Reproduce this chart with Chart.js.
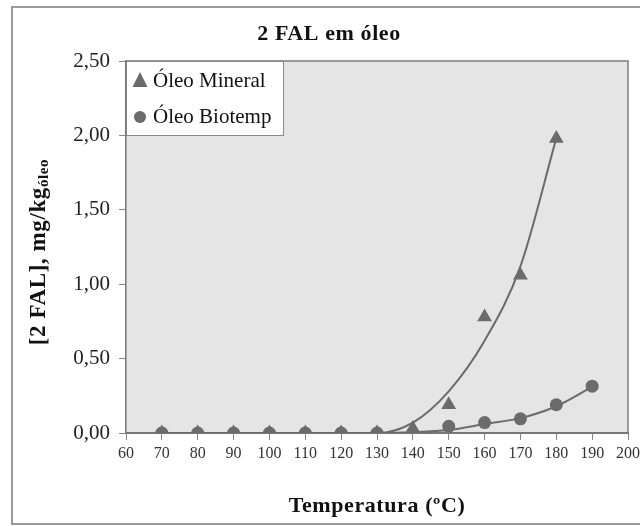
<!DOCTYPE html>
<html>
<head>
<meta charset="utf-8">
<script src="https://cdn.jsdelivr.net/npm/chart.js@4"></script>
<style>
  html, body { margin: 0; padding: 0; background: #fff; }
  #wrap { width: 640px; height: 526px; position: relative; }
</style>
</head>
<body>
<div id="wrap"><canvas id="chart"></canvas></div>
<script>
// temperatures (ºC) and measured 2 FAL values
const tempsMineral = [70, 80, 90, 100, 110, 120, 130, 140, 150, 160, 170, 180];
const mineral = [0, 0, 0, 0, 0, 0, 0, 0.03, 0.19, 0.78, 1.06, 1.98];
const tempsBiotemp = [70, 80, 90, 100, 110, 120, 130, 140, 150, 160, 170, 180, 190];
const biotemp = [0, 0, 0, 0, 0, 0, 0, 0.00, 0.045, 0.07, 0.095, 0.19, 0.315];

// trend curves
const mineralFit = [0, 0, 0, 0, 0, 0, 0, 0.07, 0.28, 0.62, 1.12, 1.98];
const biotempFit = [0, 0, 0, 0, 0, 0, 0, 0.005, 0.02, 0.06, 0.1, 0.18, 0.31];

const yTicks = [0, 0.5, 1, 1.5, 2, 2.5];
const seriesNames = ['Óleo Mineral', 'Óleo Biotemp'];

const GREY = '#6b6b6b';
const SERIF = "'Liberation Serif', 'DejaVu Serif', serif";

function pts(xs, ys) {
	return xs.map((x, i) => ({ x: x, y: ys[i] }));
}

const framePlugin = {
	id: 'frame',
	beforeDraw(chart) {
		const ctx = chart.ctx;
		const a = chart.chartArea;
		ctx.save();
		ctx.fillStyle = '#fff';
		ctx.fillRect(0, 0, chart.width, chart.height);
		ctx.strokeStyle = '#9a9a9a';
		ctx.lineWidth = 2;
		ctx.strokeRect(12, 7, 640, 517);
		ctx.fillStyle = '#e5e5e5';
		ctx.fillRect(a.left, a.top, a.right - a.left, a.bottom - a.top);
		ctx.strokeStyle = '#999';
		ctx.lineWidth = 2;
		ctx.beginPath();
		ctx.moveTo(a.left, a.top);
		ctx.lineTo(a.right, a.top);
		ctx.lineTo(a.right, a.bottom);
		ctx.stroke();
		ctx.restore();
	},
	afterDraw(chart) {
		const ctx = chart.ctx;
		const a = chart.chartArea;
		ctx.save();
		ctx.fillStyle = '#111';
		ctx.textAlign = 'center';
		ctx.textBaseline = 'middle';
		ctx.letterSpacing = '0.6px';

		// title
		ctx.font = 'bold 22px ' + SERIF;
		ctx.fillText('2 FAL em óleo', 329, 34);

		// x axis title
		ctx.font = 'bold 22px ' + SERIF;
		ctx.fillText('Temperatura (ºC)', (a.left + a.right) / 2, 506);

		// y axis title with subscript
		ctx.translate(39, (a.top + a.bottom) / 2 + 5);
		ctx.rotate(-Math.PI / 2);
		const main = '[2 FAL], mg/kg';
		const sub = 'óleo';
		ctx.font = 'bold 23px ' + SERIF;
		const w1 = ctx.measureText(main).width;
		ctx.font = 'bold 15px ' + SERIF;
		const w2 = ctx.measureText(sub).width;
		let x0 = -(w1 + w2) / 2;
		ctx.textAlign = 'left';
		ctx.font = 'bold 23px ' + SERIF;
		ctx.fillText(main, x0, 0);
		ctx.font = 'bold 15px ' + SERIF;
		ctx.fillText(sub, x0 + w1, 5);
		ctx.restore();

		// legend
		ctx.save();
		const lx = a.left, ly = a.top;
		ctx.fillStyle = '#fff';
		ctx.fillRect(lx, ly, 157, 74);
		ctx.strokeStyle = '#888';
		ctx.lineWidth = 1;
		ctx.strokeRect(lx + 0.5, ly + 0.5, 157, 74);
		ctx.fillStyle = GREY;
		ctx.beginPath();
		ctx.moveTo(lx + 14, ly + 11);
		ctx.lineTo(lx + 21.5, ly + 26);
		ctx.lineTo(lx + 6.5, ly + 26);
		ctx.closePath();
		ctx.fill();
		ctx.beginPath();
		ctx.arc(lx + 14, ly + 56, 6, 0, Math.PI * 2);
		ctx.fill();
		ctx.fillStyle = '#111';
		ctx.font = '21px ' + SERIF;
		ctx.textAlign = 'left';
		ctx.textBaseline = 'middle';
		ctx.fillText(seriesNames[0], lx + 27, ly + 20);
		ctx.fillText(seriesNames[1], lx + 27, ly + 56);
		ctx.restore();
	}
};

const ctx = document.getElementById('chart').getContext('2d');

new Chart(ctx, {
	type: 'scatter',
	data: {
		datasets: [
			{
				label: seriesNames[1] + ' (tendência)',
				data: pts(tempsBiotemp, biotempFit),
				showLine: true,
				pointRadius: 0,
				borderColor: GREY,
				borderWidth: 2,
				cubicInterpolationMode: 'monotone'
			},
			{
				label: seriesNames[0] + ' (tendência)',
				data: pts(tempsMineral, mineralFit),
				showLine: true,
				pointRadius: 0,
				borderColor: GREY,
				borderWidth: 2,
				cubicInterpolationMode: 'monotone'
			},
			{
				label: seriesNames[1],
				data: pts(tempsBiotemp, biotemp),
				pointStyle: 'circle',
				pointRadius: 6.5,
				backgroundColor: GREY,
				borderColor: GREY,
				borderWidth: 0
			},
			{
				label: seriesNames[0],
				data: pts(tempsMineral, mineral),
				pointStyle: 'triangle',
				pointRadius: 8.5,
				backgroundColor: GREY,
				borderColor: GREY,
				borderWidth: 0
			}
		]
	},
	plugins: [framePlugin],
	options: {
		animation: false,
		events: [],
		responsive: true,
		maintainAspectRatio: false,
		layout: {
			padding: { left: 0, right: 12, top: 61, bottom: 0 }
		},
		plugins: {
			legend: { display: false },
			tooltip: { enabled: false }
		},
		scales: {
			x: {
				type: 'linear',
				min: 60,
				max: 200,
				afterFit: function(scale) {
					scale.height = 93;
					scale.paddingRight = 0;
					scale.paddingLeft = 0;
				},
				border: { display: true, color: '#777', width: 2 },
				grid: {
					drawOnChartArea: false,
					drawTicks: true,
					tickLength: 7,
					color: '#888'
				},
				ticks: {
					stepSize: 10,
					padding: 4,
					color: '#333',
					maxRotation: 0,
					font: { family: SERIF, size: 16 }
				}
			},
			y: {
				min: 0,
				max: 2.5,
				afterFit: function(scale) { scale.width = 126; },
				afterBuildTicks: function(scale) {
					scale.ticks = yTicks.map(v => ({ value: v }));
				},
				border: { display: true, color: '#777', width: 1.5 },
				grid: {
					drawOnChartArea: false,
					drawTicks: true,
					tickLength: 7,
					color: '#888'
				},
				ticks: {
					padding: 9,
					color: '#222',
					font: { family: SERIF, size: 21 },
					callback: function(value) {
						return value.toFixed(2).replace('.', ',');
					}
				}
			}
		}
	}
});
</script>
</body>
</html>
